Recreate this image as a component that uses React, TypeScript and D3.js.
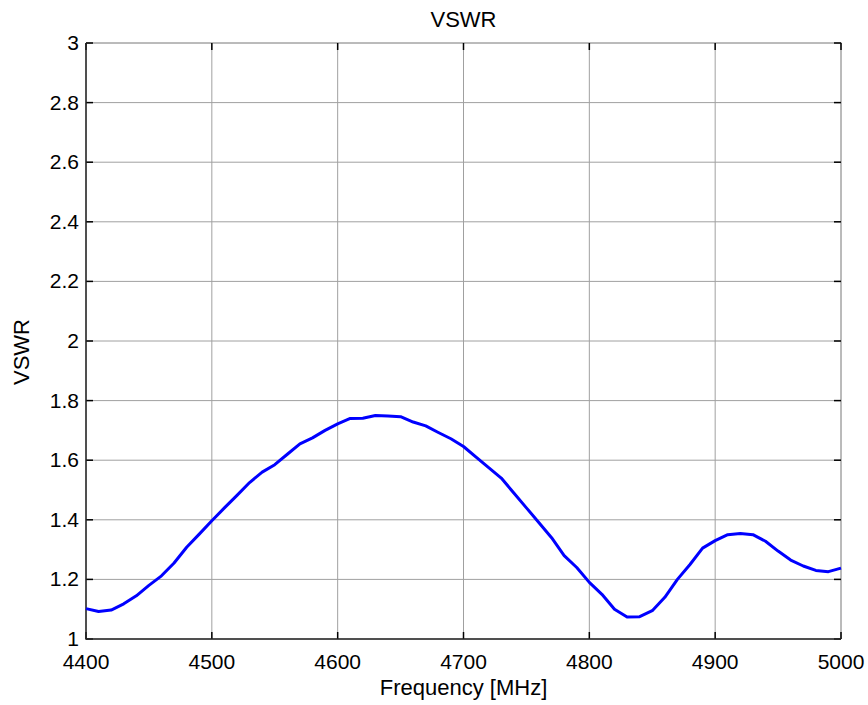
import { useEffect, useRef } from 'react'
import * as d3 from 'd3'

// frequency in MHz, sampled every 10 MHz
const FREQUENCIES = d3.range(4400, 5001, 10)

const VSWR_VALUES = [
  1.102, 1.092, 1.097, 1.118, 1.145, 1.18, 1.212, 1.255, 1.308, 1.352,
  1.397, 1.44, 1.482, 1.525, 1.56, 1.585, 1.62, 1.655, 1.675, 1.7,
  1.722, 1.74, 1.741, 1.75, 1.748, 1.746, 1.728, 1.715, 1.693, 1.672,
  1.646, 1.61, 1.575, 1.54, 1.49, 1.44, 1.39, 1.34, 1.28, 1.24,
  1.19, 1.15, 1.1, 1.074, 1.075, 1.095, 1.14, 1.2, 1.25, 1.305,
  1.33, 1.35, 1.354, 1.35, 1.328, 1.295, 1.265, 1.245, 1.23, 1.226,
  1.238,
]

const X_TICKS = [4400, 4500, 4600, 4700, 4800, 4900, 5000]
const Y_TICKS = [1, 1.2, 1.4, 1.6, 1.8, 2, 2.2, 2.4, 2.6, 2.8, 3]

const WIDTH = 868
const HEIGHT = 705
const MARGIN = { top: 43, right: 27, bottom: 66, left: 86 }
const FONT = 'Arial, "Liberation Sans", Helvetica, sans-serif'

interface Point {
  f: number
  v: number
}

export default function App() {
  const svgRef = useRef<SVGSVGElement | null>(null)

  useEffect(() => {
    if (!svgRef.current) {
      return
    }

    const svg = d3.select(svgRef.current)
    svg.selectAll('*').remove()

    const innerW = WIDTH - MARGIN.left - MARGIN.right
    const innerH = HEIGHT - MARGIN.top - MARGIN.bottom

    const x = d3.scaleLinear().domain([4400, 5000]).range([0, innerW])
    const y = d3.scaleLinear().domain([1, 3]).range([innerH, 0])

    const points: Point[] = FREQUENCIES.map((f, i) => ({ f, v: VSWR_VALUES[i] }))

    const root = svg
      .append('g')
      .attr('transform', `translate(${MARGIN.left}, ${MARGIN.top})`)

    // grid
    root
      .selectAll('line.grid-x')
      .data(X_TICKS)
      .enter()
      .append('line')
      .attr('class', 'grid-x')
      .attr('x1', (d: number) => x(d))
      .attr('x2', (d: number) => x(d))
      .attr('y1', 0)
      .attr('y2', innerH)
      .attr('stroke', '#a0a0a0')
      .attr('stroke-width', 1)

    root
      .selectAll('line.grid-y')
      .data(Y_TICKS)
      .enter()
      .append('line')
      .attr('class', 'grid-y')
      .attr('x1', 0)
      .attr('x2', innerW)
      .attr('y1', (d: number) => y(d))
      .attr('y2', (d: number) => y(d))
      .attr('stroke', '#a0a0a0')
      .attr('stroke-width', 1)

    // top / right box edges
    root
      .append('path')
      .attr('d', `M0,0 H${innerW} V${innerH}`)
      .attr('fill', 'none')
      .attr('stroke', '#b4b4b4')
      .attr('stroke-width', 1.5)

    // inward ticks on all four sides
    const tickLen = 7
    const ticks = root.append('g').attr('stroke', '#000').attr('stroke-width', 1.5)
    X_TICKS.forEach((t) => {
      ticks.append('line').attr('x1', x(t)).attr('x2', x(t)).attr('y1', innerH).attr('y2', innerH - tickLen)
      ticks.append('line').attr('x1', x(t)).attr('x2', x(t)).attr('y1', 0).attr('y2', tickLen)
    })
    Y_TICKS.forEach((t) => {
      ticks.append('line').attr('x1', 0).attr('x2', tickLen).attr('y1', y(t)).attr('y2', y(t))
      ticks.append('line').attr('x1', innerW).attr('x2', innerW - tickLen).attr('y1', y(t)).attr('y2', y(t))
    })

    // left / bottom axis lines
    root
      .append('path')
      .attr('d', `M0,0 V${innerH} H${innerW}`)
      .attr('fill', 'none')
      .attr('stroke', '#262626')
      .attr('stroke-width', 1.5)

    // data line
    const line = d3
      .line<Point>()
      .x((d) => x(d.f))
      .y((d) => y(d.v))

    root
      .append('path')
      .datum(points)
      .attr('d', line)
      .attr('fill', 'none')
      .attr('stroke', '#0000ff')
      .attr('stroke-width', 3)
      .attr('stroke-linejoin', 'round')

    // tick labels
    root
      .selectAll('text.x-label')
      .data(X_TICKS)
      .enter()
      .append('text')
      .attr('class', 'x-label')
      .attr('x', (d: number) => x(d))
      .attr('y', innerH + 30)
      .attr('text-anchor', 'middle')
      .attr('font-family', FONT)
      .attr('font-size', 21)
      .attr('fill', '#000')
      .text((d: number) => String(d))

    root
      .selectAll('text.y-label')
      .data(Y_TICKS)
      .enter()
      .append('text')
      .attr('class', 'y-label')
      .attr('x', -7)
      .attr('y', (d: number) => y(d) + 7)
      .attr('text-anchor', 'end')
      .attr('font-family', FONT)
      .attr('font-size', 21)
      .attr('fill', '#000')
      .text((d: number) => d3.format('~g')(d))

    // titles
    svg
      .append('text')
      .attr('x', MARGIN.left + innerW / 2)
      .attr('y', 27)
      .attr('text-anchor', 'middle')
      .attr('font-family', FONT)
      .attr('font-size', 22)
      .text('VSWR')

    svg
      .append('text')
      .attr('x', MARGIN.left + innerW / 2)
      .attr('y', 695)
      .attr('text-anchor', 'middle')
      .attr('font-family', FONT)
      .attr('font-size', 22)
      .text('Frequency [MHz]')

    svg
      .append('text')
      .attr('transform', `translate(29, 352) rotate(-90)`)
      .attr('text-anchor', 'middle')
      .attr('font-family', FONT)
      .attr('font-size', 22)
      .text('VSWR')
  }, [])

  return (
    <svg
      ref={svgRef}
      width={WIDTH}
      height={HEIGHT}
      style={{ position: 'absolute', left: 0, top: 0, background: '#fff' }}
    />
  )
}
